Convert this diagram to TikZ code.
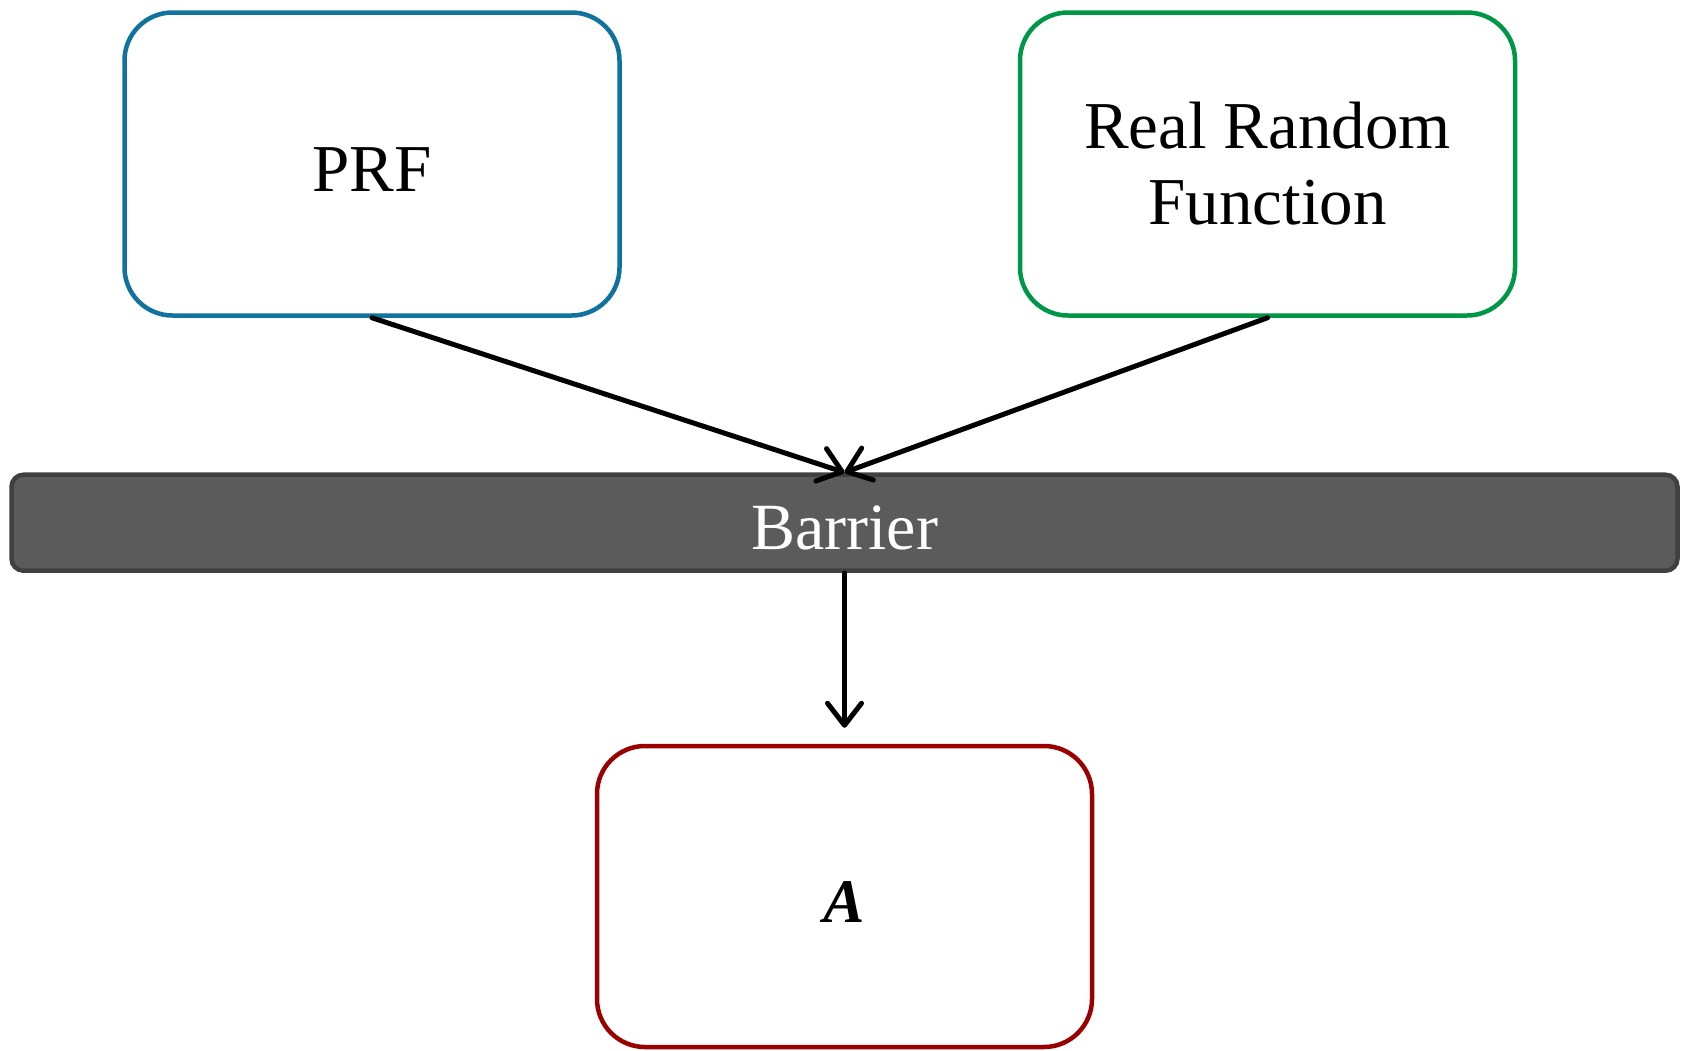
\documentclass[tikz,border=0pt]{standalone}
\usepackage{fontspec}
\setmainfont{Liberation Serif}
\usetikzlibrary{arrows.meta}

\definecolor{prfblue}{RGB}{16,115,158}
\definecolor{rrfgreen}{RGB}{0,150,72}
\definecolor{advred}{RGB}{153,0,0}
\definecolor{barfill}{RGB}{90,91,90}
\definecolor{barline}{RGB}{64,64,64}

\tikzset{
  funcbox/.style={draw, line width=4.5pt, fill=white, rounded corners=48pt,
    minimum width=495pt, minimum height=303pt, inner sep=0pt,
    align=center, font=\fontsize{67}{76}\selectfont},
  barbox/.style={draw=barline, fill=barfill, line width=4.5pt, rounded corners=12pt,
    minimum width=1666pt, minimum height=96pt, inner sep=0pt,
    text=white, font=\fontsize{66}{76}\selectfont},
  flow/.style={line width=5pt, line cap=round, line join=round,
    -{Straight Barb[length=22pt, width=34pt, line width=5pt, round]}}
}

\begin{document}
\begin{tikzpicture}[x=1pt, y=1pt]
  \useasboundingbox (0,0) rectangle (1683,-1050);

  \node[funcbox, draw=prfblue, text height=54pt, text depth=0pt] (prf) at (372,-164) {PRF};
  \node[funcbox, draw=rrfgreen] (rrf) at (1267.5,-164) {Real Random\\Function};
  \node[barbox, text height=54pt, text depth=0pt] (bar) at (844.5,-522.7) {Barrier};
  \node[funcbox, draw=advred, minimum height=301pt, font=\fontsize{62}{72}\selectfont,
    text height=52pt, text depth=0pt]
    (adv) at (844.5,-896.5) {\textbf{\textit{A}}};

  \draw[flow] (prf.south) -- (bar.north);
  \draw[flow] (rrf.south) -- (bar.north);
  \draw[flow, shorten >=16pt] (bar.south) -- (adv.north);
\end{tikzpicture}
\end{document}
